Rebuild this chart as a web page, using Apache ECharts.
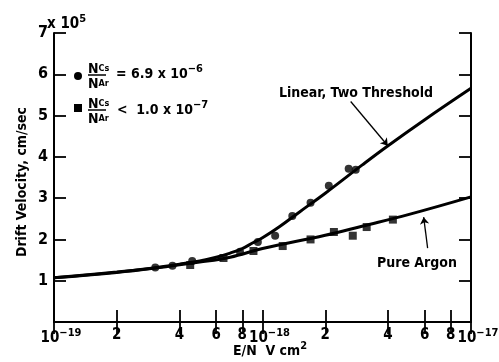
<!DOCTYPE html>
<html>
<head>
<meta charset="utf-8">
<script src="https://cdn.jsdelivr.net/npm/echarts@6/dist/echarts.min.js"></script>
<style>html,body{margin:0;padding:0;background:#fff}#c{width:499px;height:362px}</style>
</head>
<body>
<div id="c"></div>
<script>
// E/N (V cm^2) and drift velocity (x10^5 cm/sec)
const csE = [3.06e-19, 3.7e-19, 4.6e-19, 7.8e-19, 9.5e-19, 1.15e-18, 1.39e-18, 1.7e-18, 2.08e-18, 2.59e-18, 2.8e-18];
const csV = [1.32, 1.36, 1.48, 1.70, 1.94, 2.09, 2.57, 2.89, 3.30, 3.71, 3.69];
const arE = [4.5e-19, 6.5e-19, 9.05e-19, 1.25e-18, 1.7e-18, 2.2e-18, 2.71e-18, 3.16e-18, 4.22e-18];
const arV = [1.38, 1.55, 1.72, 1.84, 2.00, 2.18, 2.09, 2.30, 2.48];
const linFitE = [1e-19, 2e-19, 3e-19, 4e-19, 5e-19, 6e-19, 7e-19, 8e-19, 9e-19, 1e-18, 1.2e-18, 1.5e-18, 2e-18, 3e-18, 4e-18, 6e-18, 1e-17];
const linFitV = [1.07, 1.21, 1.31, 1.40, 1.48, 1.57, 1.67, 1.78, 1.92, 2.04, 2.30, 2.66, 3.12, 3.80, 4.27, 4.90, 5.66];
const arFitE = [1e-19, 2e-19, 3e-19, 5e-19, 7e-19, 1e-18, 2e-18, 3e-18, 5e-18, 1e-17];
const arFitV = [1.07, 1.20, 1.30, 1.45, 1.57, 1.78, 2.10, 2.32, 2.60, 3.03];
const xTickMantissas = [1, 2, 4, 6, 8];
const xLabelMantissas = [2, 4, 6, 8];
const xDecades = [-19, -18, -17];
const yTicks = [1, 2, 3, 4, 5, 6, 7];

const L = Math.log10;
const xTicks = [];
const xMantLabels = [];
xDecades.forEach(d => {
  if (d === -17) { xTicks.push(d); return; }
  xTickMantissas.forEach(m => xTicks.push(d + L(m)));
  xLabelMantissas.forEach(m => xMantLabels.push(d + L(m)));
});
const pairs = (E, V) => E.map((e, i) => [L(e), V[i]]);

const FONT = "'Liberation Sans Narrow','DejaVu Sans Condensed','Liberation Sans',sans-serif";
const rich = {
  b: {fontSize: 15, fontFamily: FONT, fontWeight: 'bold', color: '#000'},
  s: {fontSize: 11, fontFamily: FONT, fontWeight: 'bold', color: '#000', padding: [0, 0, 9, 0]},
  p: {width: 14}
};
const fracRich = {
  n: {fontSize: 14, fontFamily: FONT, fontWeight: 'bold', color: '#000'},
  c: {fontSize: 9, fontFamily: FONT, fontWeight: 'bold', color: '#000'}
};
const decadeLabel = v => {
  const r = Math.round(v);
  return '{p|}{b|10}{s|\u2212' + (-r) + '}';
};
const mantLabel = v => '{b|' + Math.round(Math.pow(10, v - Math.floor(v))) + '}';

const chart = echarts.init(document.getElementById('c'));
const axisLine = {show: true, lineStyle: {color: '#000', width: 2}};
const tickStyle = {color: '#000', width: 1.8};
chart.setOption({
  animation: false,
  backgroundColor: '#fff',
  grid: {left: 54, right: 28, top: 33, bottom: 40, outerBoundsMode: 'none', containLabel: false},
  xAxis: [{
    type: 'value', min: -19, max: -17, position: 'bottom',
    axisLine, splitLine: {show: false},
    axisTick: {show: true, inside: true, length: 12, customValues: xTicks, lineStyle: tickStyle},
    axisLabel: {customValues: xMantLabels, formatter: mantLabel, rich, margin: 6, hideOverlap: false}
  }, {
    type: 'value', min: -19, max: -17, position: 'top',
    axisLine, splitLine: {show: false},
    axisTick: {show: true, inside: true, length: 12, customValues: xTicks, lineStyle: tickStyle},
    axisLabel: {show: false}
  }, {
    type: 'value', min: -19, max: -17, position: 'bottom',
    axisLine: {show: false}, splitLine: {show: false}, axisTick: {show: false},
    axisLabel: {customValues: xDecades, formatter: decadeLabel, rich, margin: 6, showMinLabel: true, showMaxLabel: true, hideOverlap: false}
  }],
  yAxis: [{
    type: 'value', min: 0, max: 7, interval: 1, position: 'left',
    axisLine, splitLine: {show: false},
    axisTick: {show: true, inside: true, length: 12, lineStyle: tickStyle},
    axisLabel: {formatter: v => yTicks.includes(v) ? String(v) : '', fontSize: 16, fontFamily: FONT, fontWeight: 'bold', color: '#000', margin: 6}
  }, {
    type: 'value', min: 0, max: 7, interval: 1, position: 'right',
    axisLine, splitLine: {show: false},
    axisTick: {show: true, inside: true, length: 12, lineStyle: tickStyle},
    axisLabel: {show: false}
  }],
  series: [{
    type: 'line', data: pairs(linFitE, linFitV), smooth: 0.4, showSymbol: false,
    lineStyle: {color: '#000', width: 3},
    markLine: {
      silent: true, symbol: ['none', 'arrow'], symbolSize: 7, label: {show: false},
      lineStyle: {color: '#000', width: 1.3, type: 'solid'},
      emphasis: {disabled: true},
      data: [
        [{coord: [-17.577, 5.34]}, {coord: [-17.399, 4.27]}],
        [{coord: [-17.208, 1.79]}, {coord: [-17.227, 2.54]}]
      ]
    }
  }, {
    type: 'line', data: pairs(arFitE, arFitV), smooth: 0.4, showSymbol: false,
    lineStyle: {color: '#000', width: 3}
  }, {
    type: 'scatter', data: pairs(csE, csV), symbol: 'circle', symbolSize: 8,
    itemStyle: {color: '#000'}
  }, {
    type: 'scatter', data: pairs(arE, arV), symbol: 'rect', symbolSize: 8,
    itemStyle: {color: '#000'}
  }],
  graphic: [
    {type: 'text', left: 47, top: 14, style: {text: '{b|x 10}{s|5}', rich}},
    {type: 'text', x: 22, y: 182, rotation: Math.PI / 2, style: {text: 'Drift Velocity, cm/sec', fontSize: 14, fontFamily: FONT, fontWeight: 'bold', fill: '#000', align: 'center', verticalAlign: 'middle'}},
    {type: 'text', x: 270, y: 351, style: {text: '{e|E/N  V cm}{s|2}', rich: Object.assign({e: {fontSize: 14, fontFamily: FONT, fontWeight: 'bold', color: '#000'}}, rich), align: 'center', verticalAlign: 'middle'}},
    {type: 'text', x: 356, y: 93, style: {text: 'Linear, Two Threshold', fontSize: 14, fontFamily: FONT, fontWeight: 'bold', fill: '#000', align: 'center', verticalAlign: 'middle'}},
    {type: 'text', x: 417, y: 263, style: {text: 'Pure Argon', fontSize: 14, fontFamily: FONT, fontWeight: 'bold', fill: '#000', align: 'center', verticalAlign: 'middle'}},
    // legend
    {type: 'circle', shape: {cx: 78, cy: 76, r: 4}, style: {fill: '#000'}},
    {type: 'rect', shape: {x: 74, y: 104, width: 8, height: 8}, style: {fill: '#000'}},
    {type: 'text', x: 88, y: 62, style: {text: '{n|N}{c|Cs}', rich: fracRich}},
    {type: 'line', shape: {x1: 88, y1: 75, x2: 106, y2: 75}, style: {stroke: '#000', lineWidth: 1.5}},
    {type: 'text', x: 88, y: 77, style: {text: '{n|N}{c|Ar}', rich: fracRich}},
    {type: 'text', x: 116, y: 64, style: {text: '{b|= 6.9 x 10}{s|\u22126}', rich: {b: {fontSize: 14, fontFamily: FONT, fontWeight: 'bold', color: '#000'}, s: rich.s}}},
    {type: 'text', x: 88, y: 97, style: {text: '{n|N}{c|Cs}', rich: fracRich}},
    {type: 'line', shape: {x1: 88, y1: 110, x2: 106, y2: 110}, style: {stroke: '#000', lineWidth: 1.5}},
    {type: 'text', x: 88, y: 112, style: {text: '{n|N}{c|Ar}', rich: fracRich}},
    {type: 'text', x: 117, y: 100, style: {text: '{b|<  1.0 x 10}{s|\u22127}', rich: {b: {fontSize: 14, fontFamily: FONT, fontWeight: 'bold', color: '#000'}, s: rich.s}}}
  ]
});
</script>
</body>
</html>
